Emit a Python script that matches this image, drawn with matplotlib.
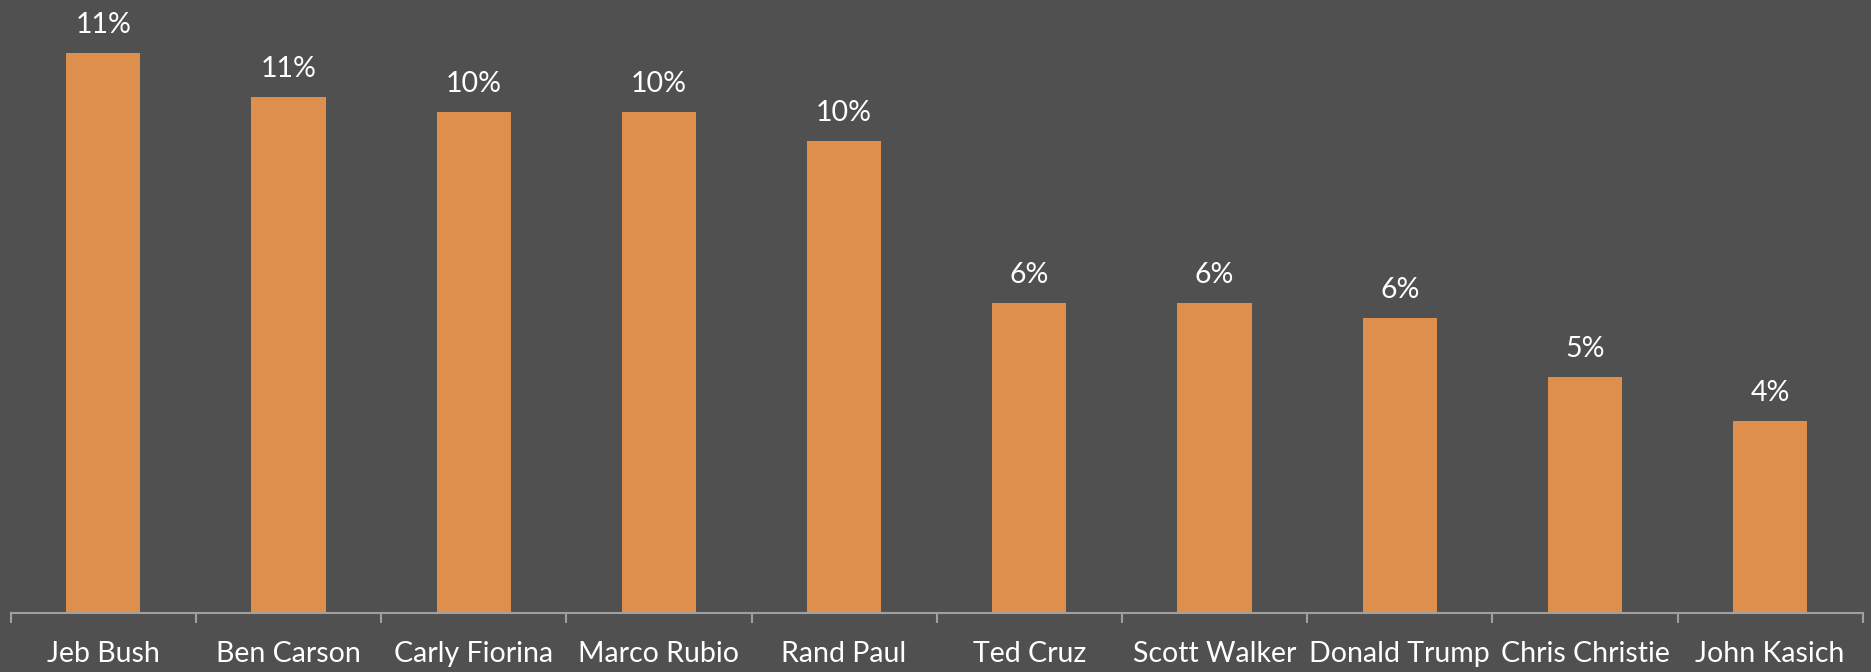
import numpy as np
import matplotlib.pyplot as plt

# 数据
candidates = ['Jeb Bush', 'Ben Carson', 'Carly Fiorina', 'Marco Rubio', 'Rand Paul',
              'Ted Cruz', 'Scott Walker', 'Donald Trump', 'Chris Christie', 'John Kasich']
share = [11.4, 10.5, 10.2, 10.2, 9.6, 6.3, 6.3, 6.0, 4.8, 3.9]

bg = '#505050'
bar_color = '#DD8F4B'
axis_color = '#A0A0A0'

plt.rcParams['font.family'] = ['Lato', 'DejaVu Sans']

fig = plt.figure(figsize=(18.71, 6.72), dpi=100, facecolor=bg)
ax = fig.add_axes([0.0057, 0.0882, 0.9899, 0.8769], facecolor=bg)

x = np.arange(len(candidates))
bars = ax.bar(x, share, width=0.4, color=bar_color)

# 数据标签
for xi, v in zip(x, share):
    ax.annotate(f'{int(np.floor(v + 0.5))}%', (xi, v), xytext=(0, 11),
                textcoords='offset points', ha='center', va='bottom',
                color='white', fontsize=20.5)

ax.set_xlim(-0.5, len(candidates) - 0.5)
ax.set_ylim(0, 12)

# 坐标轴
for side in ['top', 'right', 'left']:
    ax.spines[side].set_visible(False)
ax.spines['bottom'].set_color(axis_color)
ax.spines['bottom'].set_linewidth(1.5)
ax.set_yticks([])

ax.set_xticks(x)
ax.set_xticklabels(candidates, color='white', fontsize=20.5)
ax.tick_params(axis='x', which='major', length=0, pad=20)
ax.set_xticks(np.arange(-0.5, len(candidates)), minor=True)
ax.tick_params(axis='x', which='minor', length=7, width=1.5, color=axis_color)

plt.savefig('out.png', dpi=100, facecolor=bg)
plt.close()
